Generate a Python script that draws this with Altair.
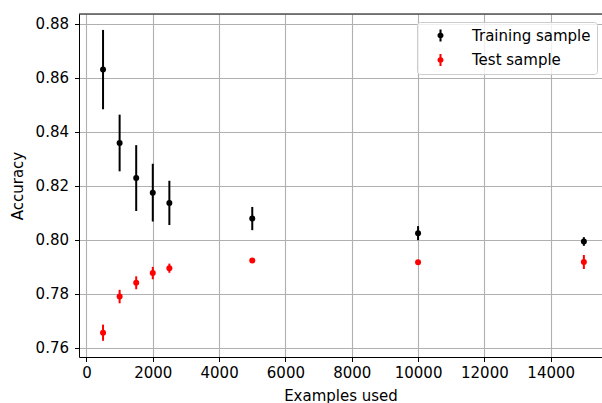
import altair as alt
import pandas as pd

examples = [500, 1000, 1500, 2000, 2500, 5000, 10000, 15000]
train_acc = [0.8630, 0.8358, 0.8228, 0.8174, 0.8136, 0.8078, 0.8024, 0.7993]
train_err = [0.0147, 0.0105, 0.0122, 0.0107, 0.0082, 0.0043, 0.0026, 0.0016]
test_acc = [0.7655, 0.7789, 0.7840, 0.7876, 0.7894, 0.7923, 0.7916, 0.7917]
test_err = [0.0030, 0.0025, 0.0024, 0.0023, 0.0017, 0.0008, 0.0004, 0.0026]
series_names = ["Training sample", "Test sample"]
series_colors = ["black", "red"]
x_ticks = [0, 2000, 4000, 6000, 8000, 10000, 12000, 14000]
y_ticks = [0.76, 0.78, 0.80, 0.82, 0.84, 0.86, 0.88]

rows = []
for name, acc, err in [(series_names[0], train_acc, train_err), (series_names[1], test_acc, test_err)]:
    for x, a, e in zip(examples, acc, err):
        rows.append({"examples": x, "accuracy": a, "lo": a - e, "hi": a + e, "series": name})
df = pd.DataFrame(rows)

W, H = 523, 343
FONT = "DejaVu Sans"
FS = 15

xscale = alt.Scale(domain=[-225, 15547], nice=False, zero=False)
yscale = alt.Scale(domain=[0.7565, 0.8836], nice=False, zero=False)
legend = alt.Legend(
    title=None,
    orient="none",
    legendX=338,
    legendY=8,
    symbolType="M-0.17,-1H0.17V1H-0.17Z M-0.5,0A0.5,0.5 0 1,1 0.5,0A0.5,0.5 0 1,1 -0.5,0Z",
    symbolSize=144,
    symbolStrokeWidth=0,
    symbolOffset=10,
    labelOffset=24,
    labelFontSize=FS,
    labelFont=FONT,
    labelColor="black",
    rowPadding=8.5,
    padding=6,
    strokeColor="#cccccc",
    fillColor="rgba(255,255,255,0.8)",
    cornerRadius=3,
)
color = alt.Color(
    "series:N",
    scale=alt.Scale(domain=series_names, range=series_colors),
    legend=legend,
)

xaxis = alt.Axis(
    values=x_ticks, format="d", title="Examples used", grid=True,
    labelFontSize=FS, titleFontSize=FS, labelFont=FONT, titleFont=FONT,
    titleFontWeight="normal", labelColor="black", titleColor="black",
    tickSize=4.5, tickColor="black", domainColor="black", labelPadding=3.5,
    titlePadding=8, gridColor="#b0b0b0", gridWidth=1.1,
)
yaxis = alt.Axis(
    values=y_ticks, format=".2f", title="Accuracy", grid=True,
    labelFontSize=FS, titleFontSize=FS, labelFont=FONT, titleFont=FONT,
    titleFontWeight="normal", labelColor="black", titleColor="black",
    tickSize=4.5, tickColor="black", domainColor="black", labelPadding=6,
    titlePadding=9.5, gridColor="#b0b0b0", gridWidth=1.1,
)

base = alt.Chart(df)

bars = base.mark_rule(strokeWidth=2).encode(
    x=alt.X("examples:Q", scale=xscale, axis=xaxis),
    y=alt.Y("lo:Q", scale=yscale, axis=yaxis),
    y2="hi:Q",
    color=color,
)

points = base.mark_point(filled=True, size=36, opacity=1, shape="circle").encode(
    x=alt.X("examples:Q", scale=xscale),
    y=alt.Y("accuracy:Q", scale=yscale),
    color=color,
)

top = alt.Chart(pd.DataFrame({"a": [0]})).mark_rule(color="black", strokeWidth=1).encode(
    x=alt.value(0), x2=alt.value(W), y=alt.value(0)
)

chart = alt.layer(bars, points, top).properties(
    width=W, height=H,
    autosize=alt.AutoSizeParams(type="none"),
    padding={"left": 79, "top": 14, "right": 0, "bottom": 46},
).configure_view(stroke=None).configure(background="white")

chart.save("out.html", embed_options={"renderer": "svg", "actions": False})
